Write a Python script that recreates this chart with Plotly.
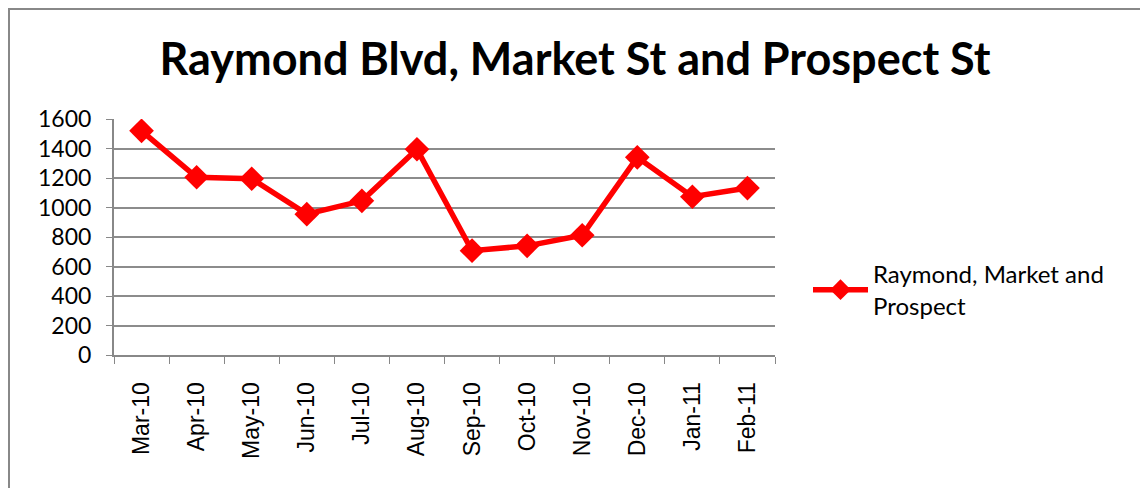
import plotly.graph_objects as go

months = ["Mar-10", "Apr-10", "May-10", "Jun-10", "Jul-10", "Aug-10",
          "Sep-10", "Oct-10", "Nov-10", "Dec-10", "Jan-11", "Feb-11"]
values = [1520, 1205, 1195, 955, 1045, 1395, 707, 740, 812, 1340, 1073, 1132]
series_name = "Raymond, Market and<br>Prospect"
y_ticks = [0, 200, 400, 600, 800, 1000, 1200, 1400, 1600]

# page has an 8px body margin, so the figure is laid out from (8, 8)
OFF = 8
W, H = 1148 - OFF, 488 - OFF
L, R, T, B = 114 - OFF, 775 - OFF, 119 - OFF, 355 - OFF

fig = go.Figure()
fig.add_trace(go.Scatter(
    x=months, y=values, mode="lines+markers", name=series_name,
    line=dict(color="#ff0000", width=5.5),
    marker=dict(symbol="diamond", size=19, color="#ff0000"),
))

def px_x(p):
    return (p - L) / (R - L)

def px_y(p):
    return (B - p) / (B - T)

FONT = "Lato, 'Open Sans', sans-serif"

fig.update_layout(
    width=W, height=H,
    margin=dict(l=L, r=W - R, t=T, b=H - B, pad=0),
    paper_bgcolor="white", plot_bgcolor="white",
    font=dict(family=FONT, color="black", size=22),
    title=dict(text="<b>Raymond Blvd, Market St and Prospect St</b>",
               font=dict(family=FONT, size=45, color="black"),
               x=(575 - OFF) / W, xanchor="center", xref="container",
               y=1 - (59 - OFF) / H, yanchor="middle", yref="container"),
    showlegend=True,
    legend=dict(x=(808 - OFF) / W, xref="container", xanchor="left",
                y=1 - (290 - OFF) / H, yref="container", yanchor="middle",
                font=dict(size=24, family=FONT, color="black"),
                bgcolor="rgba(0,0,0,0)", itemwidth=55),
    xaxis=dict(
        type="category", tickangle=-90, showgrid=False,
        showline=True, linecolor="#888888", linewidth=2,
        ticks="outside", ticklen=7, tickcolor="#888888", tickwidth=1,
        tickson="boundaries", ticklabelstandoff=16,
        tickfont=dict(family="'Liberation Sans', Arial, sans-serif", size=23, color="black"),
        range=[-0.5, 11.5], fixedrange=True,
    ),
    yaxis=dict(
        range=[0, 1600], tickvals=y_ticks, showgrid=True,
        gridcolor="#8c8c8c", gridwidth=2,
        showline=True, linecolor="#888888", linewidth=2,
        ticks="outside", ticklen=6, tickcolor="#888888",
        ticklabelstandoff=10,
        tickfont=dict(family=FONT, size=23, color="black"),
        zeroline=False,
    ),
)

# outer chart border
fig.add_shape(type="rect", xref="paper", yref="paper",
              x0=px_x(1), x1=px_x(1133),
              y0=px_y(H + 20), y1=px_y(1),
              line=dict(color="#888888", width=2), fillcolor="rgba(0,0,0,0)",
              layer="below")

fig.write_html("out.html")
